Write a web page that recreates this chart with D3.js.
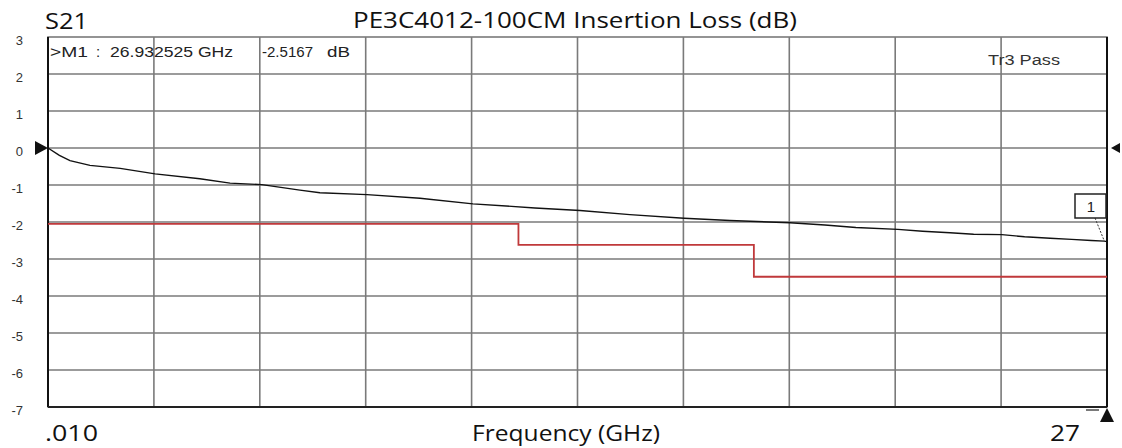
<!DOCTYPE html>
<html><head><meta charset="utf-8">
<script src="https://cdn.jsdelivr.net/npm/d3@7/dist/d3.min.js"></script>
<style>
html,body{margin:0;padding:0;background:#fff;}
svg{display:block;}
</style></head>
<body><svg id="chart" width="1122" height="448"></svg>
<script>
// ---- data ----
const freqDomain = [0.010, 27];
const yDomain = [-7, 3];
const yTickValues = [3, 2, 1, 0, -1, -2, -3, -4, -5, -6, -7];
const xDivisions = 10;
// measured S21 (GHz, dB)
const s21Freq = [0.01, 0.3, 0.57, 1.08, 1.85, 2.74, 3.88, 4.65, 5.46, 6.43, 6.94, 8.14, 9.49, 10.84, 12.42, 13.57, 14.84, 16.22, 17.39, 18.92, 19.81, 20.6, 21.67, 22.3, 23.0, 23.6, 24.32, 24.9, 25.55, 26.1, 26.6, 26.93, 27.0];
const s21dB   = [0.0, -0.2, -0.34, -0.47, -0.55, -0.70, -0.83, -0.95, -0.99, -1.14, -1.21, -1.26, -1.36, -1.51, -1.62, -1.69, -1.80, -1.90, -1.96, -2.02, -2.08, -2.15, -2.20, -2.25, -2.29, -2.33, -2.34, -2.40, -2.44, -2.47, -2.50, -2.5167, -2.53];
// limit line (pass/fail spec)
const limitFreq = [0.01, 12.0, 12.0, 18.0, 18.0, 27.0];
const limitdB   = [-2.05, -2.05, -2.62, -2.62, -3.48, -3.48];
const titleText = "PE3C4012-100CM Insertion Loss (dB)";
const traceLabel = "S21";
const xStartLabel = ".010";
const xEndLabel = "27";
const xAxisTitle = "Frequency (GHz)";
const markerFreq = 26.932525;
const markerdB = -2.5167;

// ---- layout ----
const svg = d3.select("#chart");
const L = 48, R = 1107, T = 37, B = 407;
const x = d3.scaleLinear().domain(freqDomain).range([L, R]);
const y = d3.scaleLinear().domain(yDomain).range([B, T]);

// gridlines
const xGrid = d3.range(xDivisions + 1).map(i => freqDomain[0] + i * (freqDomain[1] - freqDomain[0]) / xDivisions);
svg.append("g").selectAll("line").data(xGrid.slice(1, -1)).join("line")
  .attr("x1", d => x(d)).attr("x2", d => x(d)).attr("y1", T).attr("y2", B)
  .attr("stroke", "#7a7a7a").attr("stroke-width", 1.6);
svg.append("g").selectAll("line").data(yTickValues.slice(1, -1)).join("line")
  .attr("x1", L).attr("x2", R).attr("y1", d => y(d)).attr("y2", d => y(d))
  .attr("stroke", "#7a7a7a").attr("stroke-width", 1.6);

// frame
svg.append("rect").attr("x", L).attr("y", T).attr("width", R - L).attr("height", B - T)
  .attr("fill", "none").attr("stroke", "#7a7a7a").attr("stroke-width", 1.6);
svg.append("line").attr("x1", L).attr("x2", L).attr("y1", T).attr("y2", B).attr("stroke", "#111").attr("stroke-width", 2);
svg.append("line").attr("x1", L).attr("x2", R).attr("y1", B).attr("y2", B).attr("stroke", "#222").attr("stroke-width", 2);
svg.append("line").attr("x1", R).attr("x2", R).attr("y1", T).attr("y2", B).attr("stroke", "#111").attr("stroke-width", 2);

// y tick labels
const yAxis = d3.axisLeft(y).tickValues(yTickValues).tickSize(0).tickPadding(0).tickFormat(d => String(d));
const gy = svg.append("g").attr("transform", "translate(23,3)").call(yAxis);
gy.select(".domain").remove();
gy.selectAll("text").attr("font-family", "Liberation Sans, Arial, sans-serif").attr("font-size", 13).attr("fill", "#333");

// limit line
const line = d3.line().x(d => x(d[0])).y(d => y(d[1]));
svg.append("path").datum(limitFreq.map((f, i) => [f, limitdB[i]]))
  .attr("d", line).attr("fill", "none").attr("stroke", "#c0393b").attr("stroke-width", 1.8);

// S21 trace
svg.append("path").datum(s21Freq.map((f, i) => [f, s21dB[i]]))
  .attr("d", line).attr("fill", "none").attr("stroke", "#111").attr("stroke-width", 1.4);

// marker box
const mx = x(markerFreq), my = y(markerdB);
svg.append("line").attr("x1", 1095).attr("y1", 218).attr("x2", mx).attr("y2", my)
  .attr("stroke", "#333").attr("stroke-width", 1).attr("stroke-dasharray", "2,1.5");
svg.append("rect").attr("x", 1075).attr("y", 194).attr("width", 31).attr("height", 24)
  .attr("fill", "#fff").attr("stroke", "#222").attr("stroke-width", 1.5);
svg.append("text").attr("x", 1091).attr("y", 212).attr("text-anchor", "middle")
  .attr("font-family", "Liberation Sans, Arial, sans-serif").attr("font-size", 15).attr("fill", "#222").text("1");

// marker readout
const mFont = "Liberation Sans, Arial, sans-serif";
const readout = svg.append("g").attr("font-family", mFont).attr("font-size", 15).attr("fill", "#222");
readout.append("text").attr("x", 50).attr("y", 57).attr("textLength", 38).attr("lengthAdjust", "spacingAndGlyphs").text(">M1");
readout.append("text").attr("x", 96).attr("y", 57).text(":");
readout.append("text").attr("x", 110).attr("y", 57).attr("textLength", 123).attr("lengthAdjust", "spacingAndGlyphs").text(d3.format(".6f")(markerFreq) + " GHz");
readout.append("text").attr("x", 262).attr("y", 57).attr("textLength", 51).attr("lengthAdjust", "spacingAndGlyphs").text(String(markerdB));
readout.append("text").attr("x", 327).attr("y", 57).attr("textLength", 23).attr("lengthAdjust", "spacingAndGlyphs").text("dB");
svg.append("text").attr("x", 988).attr("y", 65).attr("font-family", mFont).attr("font-size", 14)
  .attr("fill", "#333").attr("textLength", 72).attr("lengthAdjust", "spacingAndGlyphs").text("Tr3 Pass");

// triangles
svg.append("path").attr("d", `M${L},${y(0)} L${L - 13},${y(0) - 7} L${L - 13},${y(0) + 7} Z`).attr("fill", "#111");
svg.append("path").attr("d", `M${R + 4},${y(0)} L${R + 13},${y(0) - 5} L${R + 13},${y(0) + 5} Z`).attr("fill", "#111");
svg.append("path").attr("d", `M${R},${B + 1} L${R - 7},${B + 15} L${R + 7},${B + 15} Z`).attr("fill", "#111");
svg.append("line").attr("x1", 1086).attr("x2", 1099).attr("y1", 410).attr("y2", 410).attr("stroke", "#222").attr("stroke-width", 1.2);

// titles
const tFont = "Open Sans, Noto Sans, sans-serif";
function label(xp, yp, size, len, txt) {
  return svg.append("text").attr("x", xp).attr("y", yp).attr("font-family", tFont).attr("font-size", size)
    .attr("fill", "#111").attr("textLength", len).attr("lengthAdjust", "spacingAndGlyphs").text(txt);
}
label(353, 28, 21, 444, titleText);
label(45, 29, 21, 43, traceLabel);
label(45, 441, 22, 53, xStartLabel);
label(472, 441, 21, 188, xAxisTitle);
label(1050, 441, 22, 30, xEndLabel);
</script></body></html>
